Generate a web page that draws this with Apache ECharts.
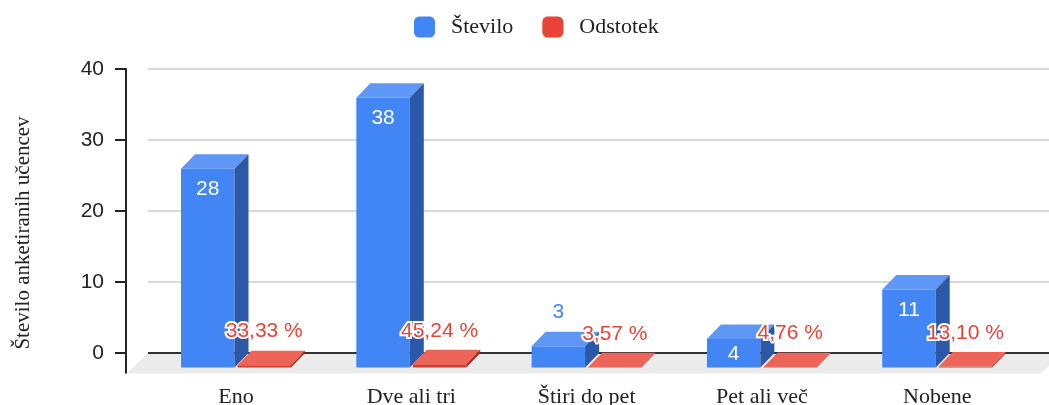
<!DOCTYPE html>
<html><head><meta charset="utf-8">
<script src="https://cdn.jsdelivr.net/npm/echarts@6/dist/echarts.min.js"></script>
<style>html,body{margin:0;padding:0;background:#fff}#c{width:1049px;height:405px}</style>
</head><body><div id="c"></div>
<script>
const categories = ['Eno', 'Dve ali tri', 'Štiri do pet', 'Pet ali več', 'Nobene'];
const countValues = [28, 38, 3, 4, 11];
const percentValues = [33.33, 45.24, 3.57, 4.76, 13.10];
const yTicks = [0, 10, 20, 30, 40];
const seriesNames = ['Število', 'Odstotek'];
const axisName = 'Število anketiranih učencev';

const DX = 14, DY = 14.5;
const SANS = '"Liberation Sans", Arial, sans-serif';
const SERIF = '"Liberation Serif", "Times New Roman", serif';
const palette = {
  count: {front: '#4285f4', top: '#5f97f6', side: '#2c58a8', label: '#4285f4'},
  pct: {front: '#d83b2c', top: '#ec6558', side: '#a52a1e', label: '#ea4335'}
};

function fmtPct(v) { return v.toFixed(2).replace('.', ',') + ' %'; }

function makeRender(kind) {
  return function (params, api) {
    const i = api.value(0), v = api.value(1);
    const h = kind === 'count' ? v : v / 100;
    const top = api.coord([i, h]);
    const base = api.coord([i, 0]);
    const band = api.size([1, 0])[0];
    const w = band * 0.305, g = band * 0.0086;
    const cx = top[0];
    const x0 = kind === 'count' ? cx - g - w : cx + g;
    const x1 = x0 + w;
    const yF = top[1] + DY, y0F = base[1] + DY;
    const c = palette[kind];
    const children = [
      {type: 'rect', shape: {x: x0, y: yF, width: w, height: y0F - yF}, style: {fill: c.front}},
      {type: 'polygon', shape: {points: [[x0, yF], [x1, yF], [x1 + DX, yF - DY], [x0 + DX, yF - DY]]}, style: {fill: c.top}},
      {type: 'polygon', shape: {points: [[x1, yF], [x1 + DX, yF - DY], [x1 + DX, y0F - DY], [x1, y0F]]}, style: {fill: c.side}}
    ];
    let text, lx = (x0 + x1) / 2, ly, fill, stroke = null;
    if (kind === 'count') {
      text = String(v);
      const fh = y0F - yF;
      if (fh >= 40) { ly = yF + 21; fill = '#fff'; }
      else if (fh >= 22) { ly = (yF + y0F) / 2 + 1; fill = '#fff'; }
      else { ly = top[1] - 19; fill = c.label; stroke = '#fff'; }
    } else {
      text = fmtPct(v);
      ly = top[1] - 19; fill = c.label; stroke = '#fff';
    }
    const ts = {text: text, x: lx, y: ly, fill: fill, font: '21px ' + SANS, align: 'center', verticalAlign: 'middle'};
    if (stroke) { ts.stroke = stroke; ts.lineWidth = 4; }
    children.push({type: 'text', z2: 10, style: ts});
    return {type: 'group', children: children};
  };
}

function renderFloor(params, api) {
  const cs = params.coordSys;
  const y0 = api.coord([0, 0])[1];
  const fd = 20.5;
  return {type: 'group', children: [
    {type: 'polygon', shape: {points: [[cs.x, y0], [cs.x + cs.width + 13, y0], [cs.x + cs.width - 8, y0 + fd], [cs.x - 21, y0 + fd]]}, style: {fill: '#ebebeb'}},
    {type: 'line', shape: {x1: cs.x, y1: y0, x2: cs.x + cs.width, y2: y0}, style: {stroke: '#333', lineWidth: 1.8}},
    {type: 'line', shape: {x1: cs.x - 22, y1: y0 - 1, x2: cs.x - 22, y2: y0 + fd}, style: {stroke: '#222', lineWidth: 2}}
  ]};
}

const yMin = yTicks[0], yMax = yTicks[yTicks.length - 1], yStep = yTicks[1] - yTicks[0];

const chart = echarts.init(document.getElementById('c'), null, {renderer: 'canvas'});
chart.setOption({
  animation: false,
  backgroundColor: '#fff',
  legend: {
    data: seriesNames,
    left: 409, top: 11,
    icon: 'roundRect',
    itemWidth: 21, itemHeight: 21,
    itemGap: 29,
    textStyle: {fontFamily: SERIF, fontSize: 22, color: '#222', padding: [0, 0, 0, 11]}
  },
  grid: [
    {left: 148, right: 0, top: 69, bottom: 52, outerBoundsMode: 'none', containLabel: false},
    {left: 148.35, right: 24.15, top: 69, bottom: 52, outerBoundsMode: 'none', containLabel: false}
  ],
  xAxis: [
    {type: 'category', gridIndex: 0, data: categories, show: false},
    {type: 'category', gridIndex: 1, data: categories,
      axisLine: {show: false}, axisTick: {show: false},
      axisLabel: {interval: 0, margin: 33, fontFamily: SERIF, fontSize: 22, color: '#222'}}
  ],
  yAxis: [
    {type: 'value', gridIndex: 0, min: yMin, max: yMax, interval: yStep, offset: 22,
      name: axisName, nameLocation: 'middle', nameRotate: 90, nameGap: 92,
      nameTextStyle: {fontFamily: SERIF, fontSize: 21, color: '#222', padding: [0, 44, 0, 0]},
      axisLine: {show: true, lineStyle: {color: '#222', width: 2}},
      axisTick: {show: true, length: 11, lineStyle: {color: '#222', width: 2}},
      axisLabel: {margin: 22, fontFamily: SANS, fontSize: 21, color: '#222'},
      splitLine: {show: true, lineStyle: {color: '#cccccc', width: 1.5}}},
    {type: 'value', gridIndex: 0, min: yMin, max: yMax, interval: yStep, offset: 22,
      axisLine: {show: false}, axisLabel: {show: false}, splitLine: {show: false},
      axisTick: {show: true, inside: true, length: 11, lineStyle: {color: '#222', width: 2}}},
    {type: 'value', gridIndex: 1, min: yMin, max: yMax, interval: yStep, show: false}
  ],
  series: [
    {type: 'custom', name: 'floor', xAxisIndex: 0, yAxisIndex: 0, z: 1, silent: true,
      renderItem: renderFloor, data: [[0, 0]]},
    {type: 'custom', name: seriesNames[0], xAxisIndex: 1, yAxisIndex: 2, z: 3, clip: false,
      itemStyle: {color: palette.count.front},
      renderItem: makeRender('count'), data: countValues.map((v, i) => [i, v])},
    {type: 'custom', name: seriesNames[1], xAxisIndex: 1, yAxisIndex: 2, z: 4, clip: false,
      itemStyle: {color: '#ea4335'},
      renderItem: makeRender('pct'), data: percentValues.map((v, i) => [i, v])}
  ]
});
</script>
</body></html>
